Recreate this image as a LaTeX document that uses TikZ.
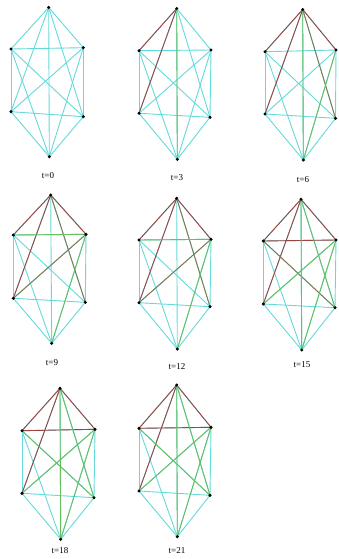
\documentclass[tikz,border=0pt]{standalone}
\usepackage{fontspec}
\setmainfont{Liberation Serif}
\definecolor{ecyan}{RGB}{100,218,218}
\definecolor{ered}{RGB}{156,68,68}
\definecolor{egreen}{RGB}{100,192,96}
\definecolor{eolive}{RGB}{130,120,76}
\pgfdeclarelayer{paper}
\pgfdeclarelayer{edges}
\pgfsetlayers{paper,edges,main}
\tikzset{
  vert/.style={circle,fill=black,inner sep=0pt,minimum size=3.4pt},
  edge/.style={line width=0.9pt,ecyan},
  lbl/.style={font=\fontsize{9}{10}\selectfont,inner sep=0pt},
}
% one snapshot of the complete graph K6:
% #1 prefix, #2 top, #3 upper left, #4 upper right,
% #5 lower left, #6 lower right, #7 bottom, #8 caption position, #9 caption
\newcommand\graphpanel[9]{%
  \node[vert] (#1T) at (#2) {};
  \node[vert] (#1A) at (#3) {};
  \node[vert] (#1B) at (#4) {};
  \node[vert] (#1C) at (#5) {};
  \node[vert] (#1D) at (#6) {};
  \node[vert] (#1O) at (#7) {};
  \node[lbl] (#1lab) at (#8) {#9};
  \begin{pgfonlayer}{edges}
    \foreach \u/\v in {T/A,T/B,T/C,T/D,T/O,A/B,A/C,A/D,A/O,B/C,B/D,B/O,C/D,C/O,D/O}
      \draw[edge] (#1\u.center) -- (#1\v.center);
  \end{pgfonlayer}}
% recolour some edges of a snapshot: #1 prefix, #2 list of u/v/colour
\newcommand\paint[2]{%
  \begin{pgfonlayer}{edges}
    \foreach \u/\v/\c in {#2}
      \draw[edge,draw=\c] (#1\u.center) -- (#1\v.center);
  \end{pgfonlayer}}

\begin{document}
\begin{tikzpicture}[x=1pt,y=-1pt]
  \begin{pgfonlayer}{paper}
    \fill[white] (0,0) rectangle (338,559);
  \end{pgfonlayer}
  \useasboundingbox (0,0) rectangle (338,559);

  \graphpanel{a}{48.7,7.5}{11,49}{83.3,47.7}{11,111.7}{83.3,116.7}{49.3,156.7}{48,176}{t=0}

  \graphpanel{b}{176.7,8.5}{139,50.7}{211,50}{139,113.3}{210,117.3}{177.3,159.3}{177,178}{t=3}
  \paint{b}{T/A/ered,T/C/ered,T/O/egreen}

  \graphpanel{c}{302.7,9.5}{265,51.7}{336,50}{265,114}{335.5,118.3}{303.3,160}{303,180}{t=6}
  \paint{c}{T/A/ered,T/B/ered,T/C/ered,T/O/egreen,T/D/eolive,B/O/egreen}

  \graphpanel{d}{50.7,195}{13.3,235}{86,234.3}{13.3,298.3}{85.3,302.3}{51.7,343.3}{52,363}{t=9}
  \paint{d}{T/A/ered,T/B/ered,T/C/ered,T/D/eolive,A/B/egreen,B/C/eolive,B/O/egreen}

  \graphpanel{e}{176.7,198.3}{139,240}{211,239.3}{139,302.7}{210,306.7}{177.3,349}{177,367}{t=12}
  \paint{e}{T/A/ered,T/B/ered,T/C/ered,T/D/eolive,A/B/egreen,B/C/eolive,B/O/egreen}

  \graphpanel{f}{301,199.3}{263.3,241}{336,240}{263.3,304}{335,307.7}{301.7,350}{302,365}{t=15}
  \paint{f}{T/A/ered,T/B/ered,A/B/ered,T/C/ered,A/D/eolive,T/O/egreen,T/D/egreen,B/C/egreen,B/O/egreen}

  \graphpanel{g}{60,388.3}{22,430.7}{95,429.3}{22,493.3}{94,497.7}{60.7,539.3}{60,551}{t=18}
  \paint{g}{T/A/ered,T/B/ered,A/B/ered,T/C/ered,A/D/egreen,T/O/egreen,T/D/egreen,B/C/egreen,B/O/egreen}

  \graphpanel{h}{176.7,385}{139,428.3}{211,427.3}{139,491}{210,495.3}{177.3,536.7}{177,551}{t=21}
  \paint{h}{T/A/ered,T/B/ered,A/B/ered,T/C/ered,A/D/egreen,T/O/egreen,T/D/egreen,B/C/egreen,B/O/egreen}
\end{tikzpicture}
\end{document}
